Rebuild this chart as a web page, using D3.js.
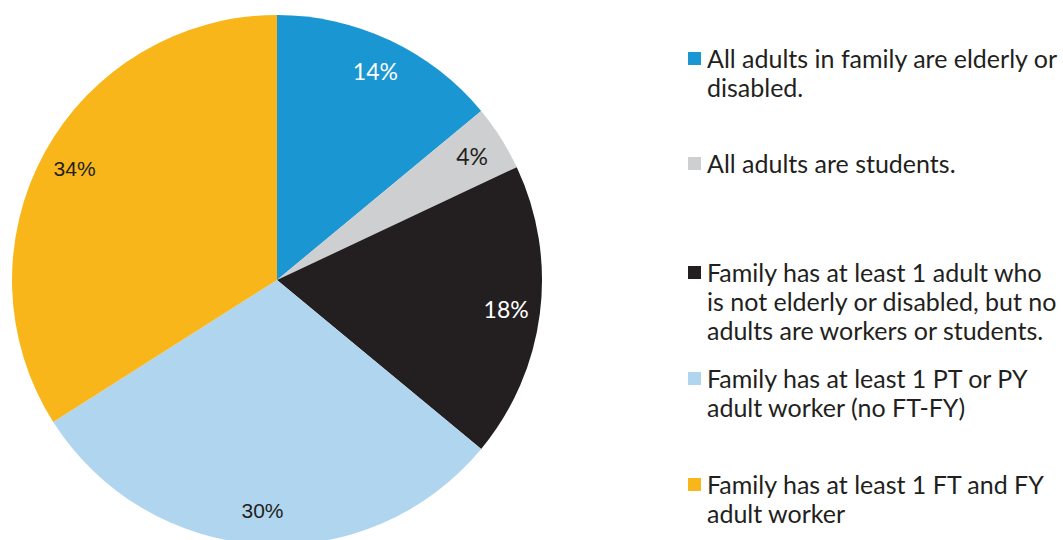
<!DOCTYPE html>
<html>
<head>
<meta charset="utf-8">
<script src="https://cdn.jsdelivr.net/npm/d3@7"></script>
<style>
  html, body { margin: 0; padding: 0; background: #ffffff; overflow: hidden; }
  svg { display: block; }
</style>
</head>
<body>
<svg id="chart" width="1063" height="540"></svg>
<script>
// Family work/status categories and their shares (percent)
const categories = [
  "All adults in family are elderly or disabled.",
  "All adults are students.",
  "Family has at least 1 adult who is not elderly or disabled, but no adults are workers or students.",
  "Family has at least 1 PT or PY adult worker (no FT-FY)",
  "Family has at least 1 FT and FY adult worker"
];
const shares = [14, 4, 18, 30, 34];
const sliceLabels = ["14%", "4%", "18%", "30%", "34%"];
const colors = ["#1a96d3", "#cdcfd1", "#231f20", "#b0d5ef", "#f9b61a"];
const labelColors = ["#ffffff", "#231f20", "#ffffff", "#231f20", "#231f20"];
const labelFonts = ["Lato", "Lato", "Lato", "Liberation Sans", "Liberation Sans"];
// Legend text broken into its printed lines
const legendLines = [
  ["All adults in family are elderly or", "disabled."],
  ["All adults are students."],
  ["Family has at least 1 adult who", "is not elderly or disabled, but no", "adults are workers or students."],
  ["Family has at least 1 PT or PY", "adult worker (no FT-FY)"],
  ["Family has at least 1 FT and FY", "adult worker"]
];
const legendTops = [58, 163, 272, 378, 484];

const svg = d3.select("#chart");
const cx = 277, cy = 280, r = 265;

const pie = d3.pie().sort(null).value(d => d);
const arcs = pie(shares);
const arc = d3.arc().innerRadius(0).outerRadius(r);
const labelArc = d3.arc().innerRadius(231).outerRadius(231);

const g = svg.append("g").attr("transform", `translate(${cx},${cy})`);

g.selectAll("path.slice")
  .data(arcs)
  .join("path")
  .attr("class", "slice")
  .attr("d", arc)
  .attr("fill", (d, i) => colors[i]);

g.selectAll("text.pct")
  .data(arcs)
  .join("text")
  .attr("class", "pct")
  .attr("transform", d => `translate(${labelArc.centroid(d)})`)
  .attr("text-anchor", "middle")
  .attr("dominant-baseline", "central")
  .attr("font-family", (d, i) => labelFonts[i])
  .attr("font-size", (d, i) => labelFonts[i] === "Lato" ? 23 : 21)
  .attr("fill", (d, i) => labelColors[i])
  .text((d, i) => sliceLabels[i]);

// Legend
const legend = svg.append("g").attr("class", "legend");
const items = legend.selectAll("g.item")
  .data(categories)
  .join("g")
  .attr("class", "item")
  .attr("transform", (d, i) => `translate(688,${legendTops[i]})`);

items.append("rect")
  .attr("x", 0)
  .attr("y", -6)
  .attr("width", 13)
  .attr("height", 13)
  .attr("fill", (d, i) => colors[i]);

items.each(function(d, i) {
  const t = d3.select(this).append("text")
    .attr("font-family", "Lato")
    .attr("font-size", 25)
    .attr("fill", "#231f20");
  legendLines[i].forEach((line, j) => {
    t.append("tspan")
      .attr("x", 19)
      .attr("y", j * 29)
      .attr("dominant-baseline", "central")
      .text(line);
  });
});
</script>
</body>
</html>
